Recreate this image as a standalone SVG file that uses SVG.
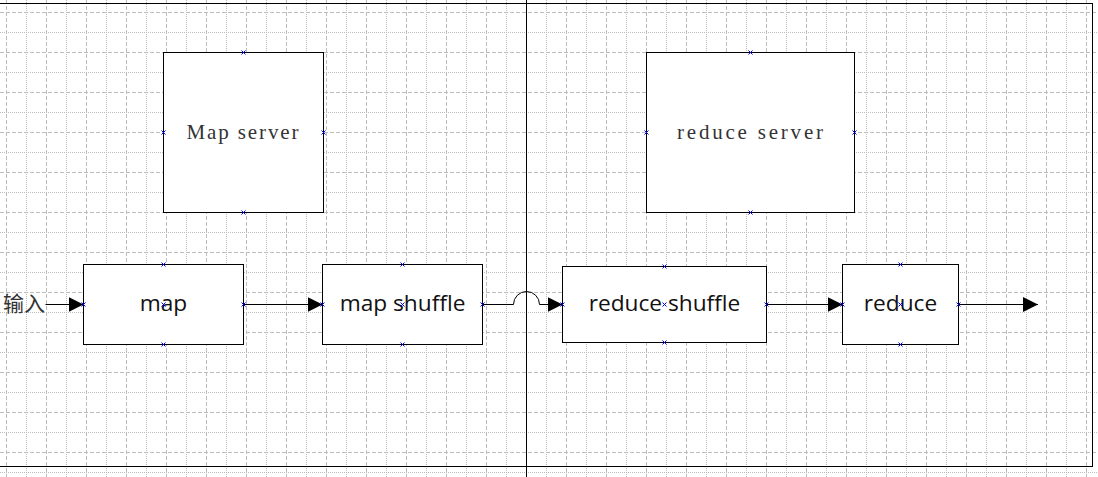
<svg xmlns="http://www.w3.org/2000/svg" width="1098" height="477" viewBox="0 0 1098 477">
<style>
.gd{fill:none;stroke:#bdbdbd;stroke-width:1;stroke-dasharray:4 2}
.gt{fill:none;stroke:#bdbdbd;stroke-width:1;stroke-dasharray:1 1}
.box{fill:#fff;stroke:#000;stroke-width:1}
.srv{font-family:"Liberation Serif",serif;font-size:21px;fill:#333;text-anchor:middle}
.lbl{font-family:"Open Sans","Noto Sans",sans-serif;font-size:22.7px;fill:#111;text-anchor:middle}
.cn{font-family:"Noto Sans CJK SC",sans-serif;font-size:21px;fill:#333;text-anchor:end}
.edge{fill:none;stroke:#000;stroke-width:1}
.pt{fill:none;stroke:#0000ff;stroke-width:1}
</style>
<defs>
<marker id="ah" markerUnits="userSpaceOnUse" markerWidth="16" markerHeight="16" refX="15" refY="7.5" orient="auto">
<path d="M0,0 L15,7.5 L0,15 Z" fill="#000"/>
</marker>
<path id="x" d="M-2,-2 L2,2 M-2,2 L2,-2"/>
</defs>
<rect width="1098" height="477" fill="#fff"/>
<g id="grid">
<path class="gd" d="M6.5,0V477M46.5,0V477M86.5,0V477M126.5,0V477M166.5,0V477M206.5,0V477M246.5,0V477M286.5,0V477M326.5,0V477M366.5,0V477M406.5,0V477M446.5,0V477M486.5,0V477M526.5,0V477M566.5,0V477M606.5,0V477M646.5,0V477M686.5,0V477M726.5,0V477M766.5,0V477M806.5,0V477M846.5,0V477M886.5,0V477M926.5,0V477M966.5,0V477M1006.5,0V477M1046.5,0V477M1086.5,0V477"/>
<path class="gt" d="M26.5,0V477M66.5,0V477M106.5,0V477M146.5,0V477M186.5,0V477M226.5,0V477M266.5,0V477M306.5,0V477M346.5,0V477M386.5,0V477M426.5,0V477M466.5,0V477M506.5,0V477M546.5,0V477M586.5,0V477M626.5,0V477M666.5,0V477M706.5,0V477M746.5,0V477M786.5,0V477M826.5,0V477M866.5,0V477M906.5,0V477M946.5,0V477M986.5,0V477M1026.5,0V477M1066.5,0V477"/>
<path class="gd" d="M0,12.5H1098M0,52.5H1098M0,92.5H1098M0,132.5H1098M0,172.5H1098M0,212.5H1098M0,252.5H1098M0,292.5H1098M0,332.5H1098M0,372.5H1098M0,412.5H1098M0,452.5H1098"/>
<path class="gt" d="M0,32.5H1098M0,72.5H1098M0,112.5H1098M0,152.5H1098M0,192.5H1098M0,232.5H1098M0,272.5H1098M0,312.5H1098M0,352.5H1098M0,392.5H1098M0,432.5H1098M0,472.5H1098"/>
</g>
<g id="frame">
<rect x="-2" y="3.5" width="1094.5" height="463" fill="none" stroke="#000" stroke-width="1"/>
<line x1="526.5" y1="0" x2="526.5" y2="477" stroke="#000" stroke-width="1"/>
</g>
<g id="connectors">
<path class="edge" d="M45.5,304.5H83.5" marker-end="url(#ah)"/>
<path class="edge" d="M243.5,304.5H322.5" marker-end="url(#ah)"/>
<path class="edge" d="M482.5,304.5H513.5A13,13 0 0 1 539.5,304.5H562.5" marker-end="url(#ah)"/>
<path class="edge" d="M766.5,304.5H842.5" marker-end="url(#ah)"/>
<path class="edge" d="M958.5,304.5H1038" marker-end="url(#ah)"/>
</g>
<g id="input">
<text class="cn" x="45" y="311">输入</text>
</g>
<g id="map-server">
<rect class="box" x="163.5" y="52.5" width="160" height="160"/>
<text class="srv" x="242.5" y="139" textLength="112" lengthAdjust="spacing">Map server</text>
<g class="pt"><use href="#x" x="243.5" y="52.5"/><use href="#x" x="243.5" y="212.5"/><use href="#x" x="163.5" y="132.5"/><use href="#x" x="323.5" y="132.5"/></g>
</g>
<g id="reduce-server">
<rect class="box" x="646.5" y="52.5" width="208" height="160"/>
<text class="srv" x="750" y="139" textLength="146" lengthAdjust="spacing">reduce server</text>
<g class="pt"><use href="#x" x="750.5" y="52.5"/><use href="#x" x="750.5" y="212.5"/><use href="#x" x="646.5" y="132.5"/><use href="#x" x="854.5" y="132.5"/></g>
</g>
<g id="map">
<rect class="box" x="83.5" y="264.5" width="160" height="80"/>
<text class="lbl" x="163.5" y="311">map</text>
<g class="pt"><use href="#x" x="163.5" y="264.5"/><use href="#x" x="163.5" y="344.5"/><use href="#x" x="83.5" y="304.5"/><use href="#x" x="243.5" y="304.5"/><use href="#x" x="163.5" y="304.5"/></g>
</g>
<g id="map-shuffle">
<rect class="box" x="322.5" y="264.5" width="160" height="80"/>
<text class="lbl" x="402.5" y="311">map shuffle</text>
<g class="pt"><use href="#x" x="402.5" y="264.5"/><use href="#x" x="402.5" y="344.5"/><use href="#x" x="322.5" y="304.5"/><use href="#x" x="482.5" y="304.5"/><use href="#x" x="402.5" y="304.5"/></g>
</g>
<g id="reduce-shuffle">
<rect class="box" x="562.5" y="266.5" width="204" height="76"/>
<text class="lbl" x="664.5" y="311">reduce shuffle</text>
<g class="pt"><use href="#x" x="664.5" y="266.5"/><use href="#x" x="664.5" y="342.5"/><use href="#x" x="562.5" y="304.5"/><use href="#x" x="766.5" y="304.5"/><use href="#x" x="664.5" y="304.5"/></g>
</g>
<g id="reduce">
<rect class="box" x="842.5" y="264.5" width="116" height="80"/>
<text class="lbl" x="900.5" y="311">reduce</text>
<g class="pt"><use href="#x" x="900.5" y="264.5"/><use href="#x" x="900.5" y="344.5"/><use href="#x" x="842.5" y="304.5"/><use href="#x" x="958.5" y="304.5"/><use href="#x" x="900.5" y="304.5"/></g>
</g>
</svg>
